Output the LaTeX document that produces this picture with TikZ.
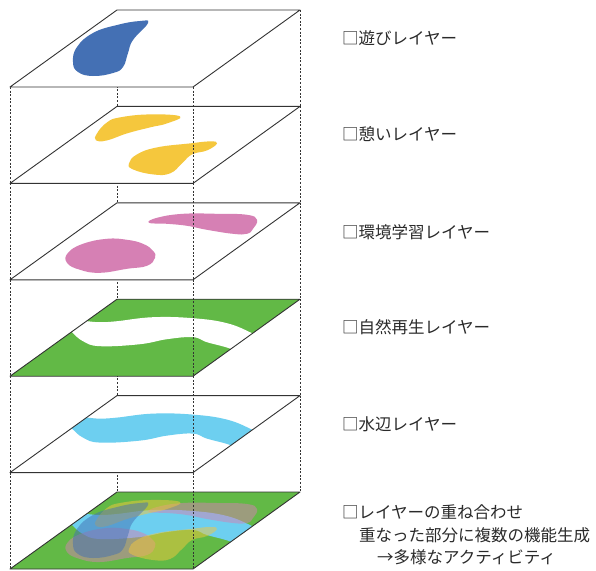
\documentclass[tikz,border=0pt]{standalone}
\usepackage{fontspec}
\newfontfamily\jpfont{Noto Sans CJK JP}
\definecolor{edgegray}{HTML}{333333}
\definecolor{textgray}{HTML}{2A2A2A}
\definecolor{playblue}{HTML}{4470B4}
\definecolor{restyellow}{HTML}{F5C73D}
\definecolor{studypink}{HTML}{D680B4}
\definecolor{naturegreen}{HTML}{62B946}
\definecolor{waterblue}{HTML}{6DCFF0}
\begin{document}
\begin{tikzpicture}[x=1pt,y=-1pt,
  edge/.style={draw=edgegray, line width=0.9pt, line join=round},
  guide/.style={draw=edgegray, line width=0.7pt, dash pattern=on 2pt off 1.6pt},
  label/.style={anchor=west, inner sep=0pt, font=\jpfont\fontsize{16.5}{20}\selectfont, text=textgray},
  % shapes, in coordinates relative to the back edge of a layer
  blueblob/.style={insert path={plot[smooth cycle, tension=0.75] coordinates
    {(148,13) (133,30) (128,43) (123,57) (113,63) (93,66) (78,62) (73,52) (77,37) (93,23) (117,15) (140,11)}}},
  yellowA/.style={insert path={plot[smooth cycle, tension=0.75] coordinates
    {(180,10) (167,17) (150,21) (127,27) (107,34) (96,34) (97,27) (107,16) (120,11) (150,8)}}},
  yellowB/.style={insert path={plot[smooth cycle, tension=0.75] coordinates
    {(217,37) (207,44) (192,48) (182,57) (170,67) (153,68) (133,63) (129,57) (137,48) (157,41) (190,37) (210,35)}}},
  pinkA/.style={insert path={plot[smooth cycle, tension=0.75] coordinates
    {(155,55) (153,48) (143,41) (127,37) (107,36) (83,41) (68,50) (67,60) (80,67) (100,70) (127,66) (147,63)}}},
  pinkB/.style={insert path={plot[smooth cycle, tension=0.75] coordinates
    {(149,20) (157,15) (183,11) (217,11) (247,12) (257,17) (253,26) (247,31) (233,31) (207,27) (187,23) (167,21)}}},
  river/.style={insert path={plot[smooth, tension=0.7] coordinates
    {(75,21) (87,22) (100,23) (117,22) (153,18) (193,19) (227,24) (252,34) (262,40)}
    -- plot[smooth, tension=0.7] coordinates
    {(238,54) (229,49) (207,43) (193,38) (167,40) (140,45) (100,47) (83,42) (72,33) (64,26)} -- cycle}},
]
\useasboundingbox (0,0) rectangle (596,570);

% corner points of the six layers
\foreach \k/\b in {1/10,2/106.4,3/202.8,4/299.2,5/395.6,6/492} {
  \coordinate (BL\k) at (117,\b);
  \coordinate (BR\k) at (300,\b);
  \coordinate (FL\k) at (10,\b+77);
  \coordinate (FR\k) at (193,\b+77);
}

% hidden guide lines between layers
\foreach \i/\j in {1/2,2/3,3/4,4/5,5/6} {
  \draw[guide] (FL\i) -- (FL\j);
  \draw[guide] (BL\i) -- (BL\j);
  \draw[guide] (BR\i) -- (BR\j);
}

% layer 1: play
\fill[white] (FL1) -- (FR1) -- (BR1) -- (BL1) -- cycle;
\fill[playblue, shift={(0,10)}, blueblob];
\draw[edge] (FL1) -- (FR1) -- (BR1) -- (BL1) -- cycle;

% layer 2: rest
\fill[white] (FL2) -- (FR2) -- (BR2) -- (BL2) -- cycle;
\fill[restyellow, shift={(0,106.4)}, yellowA];
\fill[restyellow, shift={(0,106.4)}, yellowB];
\draw[edge] (FL2) -- (FR2) -- (BR2) -- (BL2) -- cycle;

% layer 3: environmental learning
\fill[white] (FL3) -- (FR3) -- (BR3) -- (BL3) -- cycle;
\fill[studypink, shift={(0,202.8)}, pinkA];
\fill[studypink, shift={(0,202.8)}, pinkB];
\draw[edge] (FL3) -- (FR3) -- (BR3) -- (BL3) -- cycle;

% layer 4: nature restoration
\fill[naturegreen] (FL4) -- (FR4) -- (BR4) -- (BL4) -- cycle;
\begin{scope}
  \clip (FL4) -- (FR4) -- (BR4) -- (BL4) -- cycle;
  \fill[white, shift={(0,299.2)}, river];
\end{scope}
\draw[edge] (FL4) -- (FR4) -- (BR4) -- (BL4) -- cycle;

% layer 5: waterside
\fill[white] (FL5) -- (FR5) -- (BR5) -- (BL5) -- cycle;
\begin{scope}
  \clip (FL5) -- (FR5) -- (BR5) -- (BL5) -- cycle;
  \fill[waterblue, shift={(0,395.6)}, river];
\end{scope}
\draw[edge] (FL5) -- (FR5) -- (BR5) -- (BL5) -- cycle;

% layer 6: all layers overlaid
\fill[naturegreen] (FL6) -- (FR6) -- (BR6) -- (BL6) -- cycle;
\begin{scope}[shift={(0,492)}]
  \clip (10,77) -- (193,77) -- (300,0) -- (117,0) -- cycle;
  \fill[waterblue, river];
  \fill[studypink, opacity=0.5, pinkA];
  \fill[studypink, opacity=0.5, pinkB];
  \fill[restyellow, opacity=0.5, yellowA];
  \fill[restyellow, opacity=0.5, yellowB];
  \fill[playblue, opacity=0.5, blueblob];
\end{scope}
\draw[edge] (FL6) -- (FR6) -- (BR6) -- (BL6) -- cycle;

% visible guide line at the front right corner
\foreach \i/\j in {1/2,2/3,3/4,4/5,5/6} {
  \draw[guide] (FR\i) -- (FR\j);
}

% layer labels
\node[label] (t1) at (342,38) {□遊びレイヤー};
\node[label] (t2) at (342,134) {□憩いレイヤー};
\node[label] (t3) at (342,232) {□環境学習レイヤー};
\node[label] (t4) at (342,327) {□自然再生レイヤー};
\node[label] (t5) at (342,424) {□水辺レイヤー};
\node[label] (t6) at (342,512) {□レイヤーの重ね合わせ};
\node[label] (t7) at (359,535) {重なった部分に複数の機能生成};
\node[label] (t8) at (377,557) {→多様なアクティビティ};
\end{tikzpicture}
\end{document}
